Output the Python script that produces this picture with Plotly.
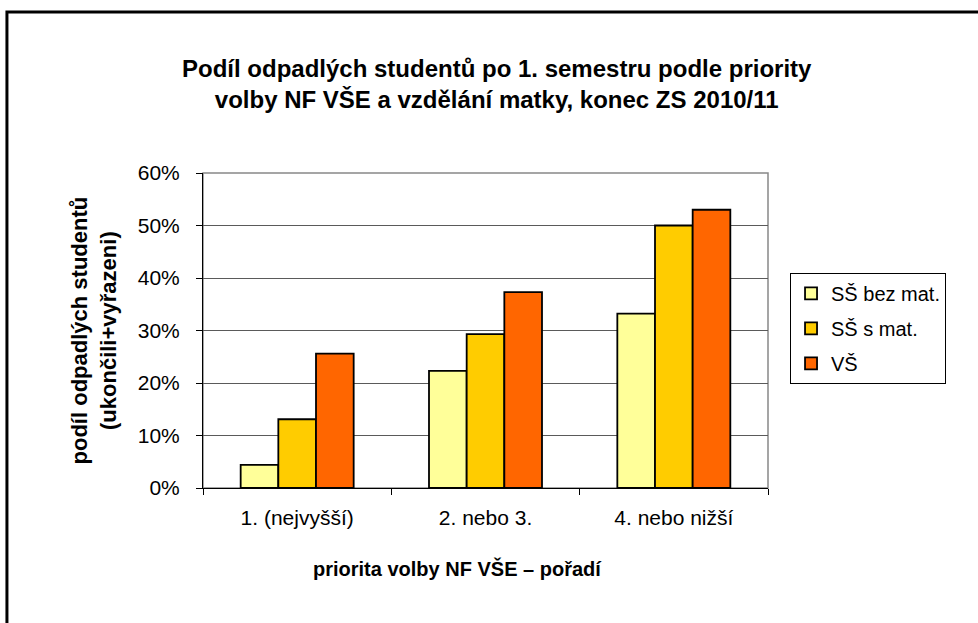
import plotly.graph_objects as go

kategorie = ["1. (nejvyšší)", "2. nebo 3.", "4. nebo nižší"]
ss_bez_mat = [0.044, 0.223, 0.332]
ss_s_mat = [0.131, 0.293, 0.500]
vs = [0.256, 0.373, 0.530]

nazvy = ["SŠ bez mat.", "SŠ s mat.", "VŠ"]
barvy = ["#FFFF99", "#FFCC00", "#FF6600"]

FONT = "Liberation Sans, Arial, sans-serif"

fig = go.Figure()
for nazev, hodnoty, barva in zip(nazvy, [ss_bez_mat, ss_s_mat, vs], barvy):
    fig.add_trace(go.Bar(
        x=kategorie, y=hodnoty, name=nazev, legendgroup=nazev,
        marker=dict(color=barva, line=dict(color="black", width=1.8)),
    ))

fig.update_layout(
    width=978, height=623,
    margin=dict(l=203, r=210, t=173, b=135),
    paper_bgcolor="white", plot_bgcolor="white",
    font=dict(family=FONT, color="black", size=21),
    barmode="group", bargap=0.40, bargroupgap=0,
    legend=dict(
        x=1.039, y=0.683, xanchor="left", yanchor="top",
        bordercolor="black", borderwidth=1, tracegroupgap=6,
        font=dict(size=20),
    ),
)

fig.update_yaxes(
    range=[0, 0.6], dtick=0.1, tickformat=".0%",
    showgrid=True, gridcolor="#5a5a5a", gridwidth=1,
    showline=True, linecolor="black", linewidth=1,
    ticks="outside", ticklen=6, tickcolor="black",
    ticklabelstandoff=12, zeroline=False,
)
fig.update_xaxes(
    showline=True, linecolor="black", linewidth=1,
    ticks="outside", ticklen=6, tickcolor="black", tickson="boundaries",
    ticklabelstandoff=11,
)

# sede oramovani plochy grafu
fig.add_shape(type="rect", xref="paper", yref="paper", x0=0, y0=0, x1=1, y1=1,
              line=dict(color="#888888", width=1.5), layer="below")
# cerny ramecek kolem celeho grafu
fig.add_shape(type="path", xref="paper", yref="paper",
              path="M -0.347,-0.5 L -0.347,1.511 L 1.4,1.511",
              line=dict(color="black", width=3))

fig.add_annotation(
    text="<b>Podíl odpadlých studentů po 1. semestru podle priority<br>volby NF VŠE a vzdělání matky, konec ZS 2010/11</b>",
    xref="paper", yref="paper", x=0.52, y=1.283, showarrow=False,
    font=dict(size=24), xanchor="center", yanchor="middle",
)
fig.add_annotation(
    text="<b>podíl odpadlých studentů<br>(ukončili+vyřazeni)</b>",
    xref="paper", yref="paper", x=-0.193, y=0.5, textangle=-90, showarrow=False,
    font=dict(size=22), xanchor="center", yanchor="middle",
)
fig.add_annotation(
    text="<b>priorita volby NF VŠE – pořadí</b>",
    xref="paper", yref="paper", x=0.45, y=-0.254, showarrow=False,
    font=dict(size=20), xanchor="center", yanchor="middle",
)

# bez okraje stranky, aby graf sedel presne do okna
fig.write_html("out.html", config={"displayModeBar": False},
               post_script="document.body.style.margin='0';")
